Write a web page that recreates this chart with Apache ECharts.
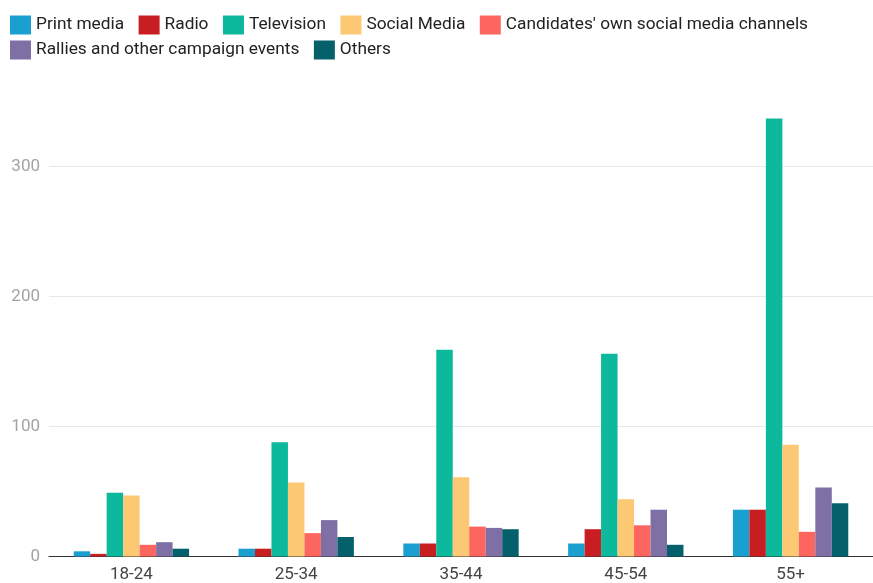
<!DOCTYPE html>
<html>
<head>
<meta charset="utf-8">
<script src="https://cdn.jsdelivr.net/npm/echarts@6/dist/echarts.min.js"></script>
<style>
html,body{margin:0;padding:0;background:#fff;}
#chart{width:873px;height:583px;}
</style>
</head>
<body>
<div id="chart"></div>
<script>
const categories = ['18-24', '25-34', '35-44', '45-54', '55+'];
const seriesNames = ['Print media', 'Radio', 'Television', 'Social Media', "Candidates' own social media channels", 'Rallies and other campaign events', 'Others'];
const printMedia = [4, 6, 10, 10, 36];
const radio = [2, 6, 10, 21, 36];
const television = [49, 88, 159, 156, 337];
const socialMedia = [47, 57, 61, 44, 86];
const candidatesChannels = [9, 18, 23, 24, 19];
const rallies = [11, 28, 22, 36, 53];
const others = [6, 15, 21, 9, 41];
const yTicks = [0, 100, 200, 300];
const colors = ['#1aa0d0', '#c81e21', '#0db99c', '#fdc874', '#fd665e', '#7e6fa5', '#04616b'];

const seriesData = [printMedia, radio, television, socialMedia, candidatesChannels, rallies, others];

const legendBase = {
  left: 5,
  itemWidth: 21,
  itemHeight: 19,
  itemGap: 14.5,
  icon: 'rect',
  orient: 'horizontal',
  textStyle: {fontSize: 17.3, color: '#222', fontFamily: 'Roboto'}
};

const chart = echarts.init(document.getElementById('chart'), null, {renderer: 'canvas'});
chart.setOption({
  animation: false,
  color: colors,
  textStyle: {fontFamily: 'Roboto'},
  legend: [
    Object.assign({}, legendBase, {top: 10.5, data: seriesNames.slice(0, 5)}),
    Object.assign({}, legendBase, {top: 35.5, data: seriesNames.slice(5)})
  ],
  grid: {left: 49, top: 101.6, width: 837.5, height: 456.4, containLabel: false},
  xAxis: {
    type: 'category',
    data: categories,
    axisTick: {show: false},
    axisLine: {lineStyle: {color: '#333', width: 1}},
    axisLabel: {fontSize: 17, color: '#444', margin: 9.5, fontFamily: 'Roboto'}
  },
  yAxis: {
    type: 'value',
    min: yTicks[0],
    max: 350,
    interval: 100,
    axisLine: {show: false},
    axisTick: {show: false},
    splitLine: {lineStyle: {color: '#e8e8e8', width: 1}, showMaxLine: false},
    axisLabel: {fontSize: 17, color: '#a3a3a3', margin: 9, showMaxLabel: false, fontFamily: 'Roboto'}
  },
  series: seriesNames.map((name, i) => ({
    name: name,
    type: 'bar',
    data: seriesData[i],
    barGap: '0%',
    barCategoryGap: '30%'
  }))
});
</script>
</body>
</html>
